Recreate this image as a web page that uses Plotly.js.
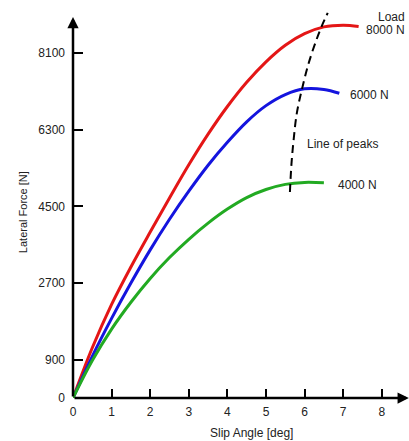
<!DOCTYPE html>
<html>
<head>
<meta charset="utf-8">
<script src="https://cdn.plot.ly/plotly-3.0.1.min.js"></script>
<style>html,body{margin:0;padding:0;background:#fff;}#chart{width:409px;height:441px;}</style>
</head>
<body>
<div id="chart"></div>
<script>
// Slip angle [deg] and lateral force [N]
const slip8000 = [0, 0.5, 1, 1.5, 2, 2.5, 3, 3.5, 4, 4.5, 5, 5.5, 6, 6.5, 7, 7.4];
const force8000 = [0, 1180, 2200, 3080, 3900, 4700, 5480, 6200, 6850, 7420, 7900, 8290, 8560, 8720, 8760, 8730];

const slip6000 = [0, 0.5, 1, 1.5, 2, 2.5, 3, 3.5, 4, 4.5, 5, 5.5, 6, 6.5, 6.9];
const force6000 = [0, 980, 1870, 2700, 3480, 4200, 4860, 5470, 6010, 6490, 6870, 7130, 7265, 7250, 7160];

const slip4000 = [0, 0.5, 1, 1.5, 2, 2.5, 3, 3.5, 4, 4.5, 5, 5.5, 6, 6.5];
const force4000 = [0, 880, 1620, 2250, 2810, 3300, 3730, 4110, 4440, 4710, 4900, 5020, 5065, 5055];

const peakSlip = [5.62, 5.66, 5.72, 5.8, 5.93, 6.1, 6.3, 6.45, 6.6];
const peakForce = [4840, 5500, 6100, 6700, 7250, 7850, 8400, 8750, 9050];

const xTicks = [0, 1, 2, 3, 4, 5, 6, 7, 8];
const yTicks = [0, 900, 2700, 4500, 6300, 8100];

const font = {family: 'Liberation Sans, Arial, sans-serif', size: 12, color: '#222'};

const traces = [
  {x: slip8000, y: force8000, mode: 'lines', line: {color: 'rgb(228,22,22)', width: 3, shape: 'spline', smoothing: 1}},
  {x: slip6000, y: force6000, mode: 'lines', line: {color: 'rgb(20,20,222)', width: 3, shape: 'spline', smoothing: 1}},
  {x: slip4000, y: force4000, mode: 'lines', line: {color: 'rgb(34,170,34)', width: 3, shape: 'spline', smoothing: 1}},
  {x: peakSlip, y: peakForce, mode: 'lines', line: {color: '#000', width: 2, dash: '8px,5px', shape: 'spline', smoothing: 1}}
];

const axisArrow = (x, y) => ({
  x: x, y: y, xref: 'x', yref: 'y', ax: 0, ay: 0, axref: 'x', ayref: 'y',
  text: '', showarrow: true, arrowhead: 2, arrowsize: 0.9, arrowwidth: 2.5, arrowcolor: '#000', standoff: 0, startstandoff: 0
});

const layout = {
  width: 409, height: 441,
  margin: {l: 73, r: 0, t: 10, b: 43, pad: 0},
  paper_bgcolor: '#fff', plot_bgcolor: '#fff',
  showlegend: false,
  font: font,
  xaxis: {
    range: [0, 8.705], tickvals: xTicks, ticktext: xTicks.map(String),
    showgrid: false, zeroline: false, showline: false,
    ticks: 'inside', ticklen: 9, tickwidth: 2, tickcolor: '#000',
    tickfont: font, ticklabelstandoff: 5, fixedrange: true
  },
  yaxis: {
    range: [0, 9117], tickvals: yTicks, ticktext: yTicks.map(String),
    showgrid: false, zeroline: false, showline: false,
    ticks: 'inside', ticklen: 10, tickwidth: 2, tickcolor: '#000',
    tickfont: font, ticklabelstandoff: 7, fixedrange: true
  },
  annotations: [
    axisArrow(8.7, 0),
    axisArrow(0, 8950),
    {x: 8.65, y: 8950, xref: 'x', yref: 'y', text: 'Load', showarrow: false, xanchor: 'right', font: font},
    {x: 8.65, y: 8647, xref: 'x', yref: 'y', text: '8000 N', showarrow: false, xanchor: 'right', font: font},
    {x: 7.12, y: 7119, xref: 'x', yref: 'y', text: '6000 N', showarrow: false, xanchor: 'left', font: font},
    {x: 6.01, y: 5968, xref: 'x', yref: 'y', text: 'Line of peaks', showarrow: false, xanchor: 'left', font: font},
    {x: 6.81, y: 5005, xref: 'x', yref: 'y', text: '4000 N', showarrow: false, xanchor: 'left', font: font},
    {x: 4.63, y: -0.0902, xref: 'x', yref: 'paper', text: 'Slip Angle [deg]', showarrow: false, xanchor: 'center', yanchor: 'middle', font: font},
    {x: -0.150, y: 4358, xref: 'paper', yref: 'y', text: 'Lateral Force [N]', showarrow: false, textangle: -90, xanchor: 'center', yanchor: 'middle', font: {family: font.family, size: 11, color: '#222'}}
  ]
};

Plotly.newPlot('chart', traces, layout, {displayModeBar: false, staticPlot: true});
</script>
</body>
</html>
